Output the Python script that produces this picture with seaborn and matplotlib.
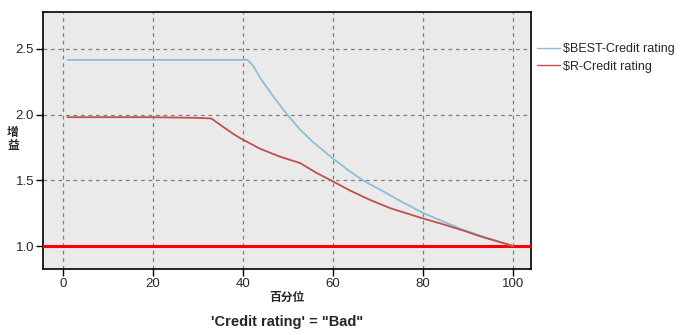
import numpy as np
import pandas as pd
import matplotlib
matplotlib.use("Agg")
import matplotlib.pyplot as plt
import seaborn as sns
from matplotlib.lines import Line2D

# Data
best_x = [1, 20, 41.0, 42.3, 43.8, 46.7, 49.7, 52.7, 55.6, 59.85, 63.8, 66.7, 71.2, 75.6,
          79.85, 84.5, 89.0, 93.4, 98.6, 100]
best_y = [2.416, 2.416, 2.416, 2.369, 2.28, 2.14, 2.005, 1.885, 1.79, 1.669, 1.567, 1.499,
          1.415, 1.331, 1.254, 1.186, 1.122, 1.071, 1.015, 1.0]
r_x = [1, 20, 30, 33.0, 35.6, 37.85, 39.3, 43.8, 48.2, 52.7, 56.4, 59.3, 63.8, 68.2, 72.7,
       79.85, 84.5, 89.0, 93.4, 98.6, 100]
r_y = [1.98, 1.98, 1.975, 1.97, 1.906, 1.853, 1.822, 1.74, 1.68, 1.631, 1.555, 1.504, 1.422,
       1.351, 1.288, 1.211, 1.165, 1.117, 1.066, 1.015, 1.0]
series_names = ["$BEST-Credit rating", "$R-Credit rating"]
colors = ["#8DBED8", "#C0504D"]
baseline = 1.0
x_ticks = [0, 20, 40, 60, 80, 100]
y_ticks = [1.0, 1.5, 2.0, 2.5]
title = "'Credit rating' = \"Bad\""
xlabel = "百分位"
ylabel = "增\n益"

df = pd.concat([
    pd.DataFrame({"x": best_x, "y": best_y, "s": series_names[0]}),
    pd.DataFrame({"x": r_x, "y": r_y, "s": series_names[1]}),
])

sns.set_style("white")
plt.rcParams['font.family'] = ['Liberation Sans', 'Noto Sans CJK SC', 'DejaVu Sans']

fig = plt.figure(figsize=(6.89, 3.35), dpi=100)
ax = fig.add_axes([0.0624, 0.197, 0.7083, 0.767])
ax.set_facecolor("#EAEAEA")

ax.axhline(baseline, color="#FF0000", lw=2.2, zorder=3)
sns.lineplot(data=df, x="x", y="y", hue="s", palette=colors, ax=ax, lw=1.3,
             legend=False, zorder=4, estimator=None, sort=False)

ax.set_xlim(-4.44, 104)
ax.set_ylim(0.825, 2.78)
ax.set_xticks(x_ticks)
ax.set_yticks(y_ticks)
ax.set_xticklabels([str(v) for v in x_ticks])
ax.set_yticklabels([f"{v:.1f}" for v in y_ticks])
ax.grid(True, color="#808080", linestyle=(0, (3, 3)), lw=0.9)
ax.set_axisbelow(True)
for s in ax.spines.values():
    s.set_color("black")
    s.set_linewidth(1.2)
ax.tick_params(axis="both", direction="out", length=5, width=1, color="black",
               labelsize=9.5, pad=1.5, left=True, bottom=True)

ax.set_xlabel("")
ax.set_ylabel("")
fig.text(287/689, 1 - 297/335, xlabel, fontsize=8.5, fontweight="bold", ha="center", va="center",
         family=['Noto Sans CJK SC', 'DejaVu Sans'])
fig.text(13/689, 1 - 139/335, ylabel, fontsize=8.5, fontweight="bold", ha="center", va="center",
         family=['Noto Sans CJK SC', 'DejaVu Sans'], linespacing=0.95)
fig.text(287/689, 1 - 322/335, title, fontsize=10.5, fontweight="bold", ha="center", va="center")

handles = [Line2D([], [], color=c, lw=1) for c in colors]
fig.legend(handles, series_names, loc="upper left", bbox_to_anchor=(537/689, 1 - 43/335),
           frameon=False, fontsize=9, handlelength=1.8, handletextpad=0.25,
           labelspacing=0.45, borderaxespad=0, borderpad=0)

fig.savefig("out.png", dpi=100)
